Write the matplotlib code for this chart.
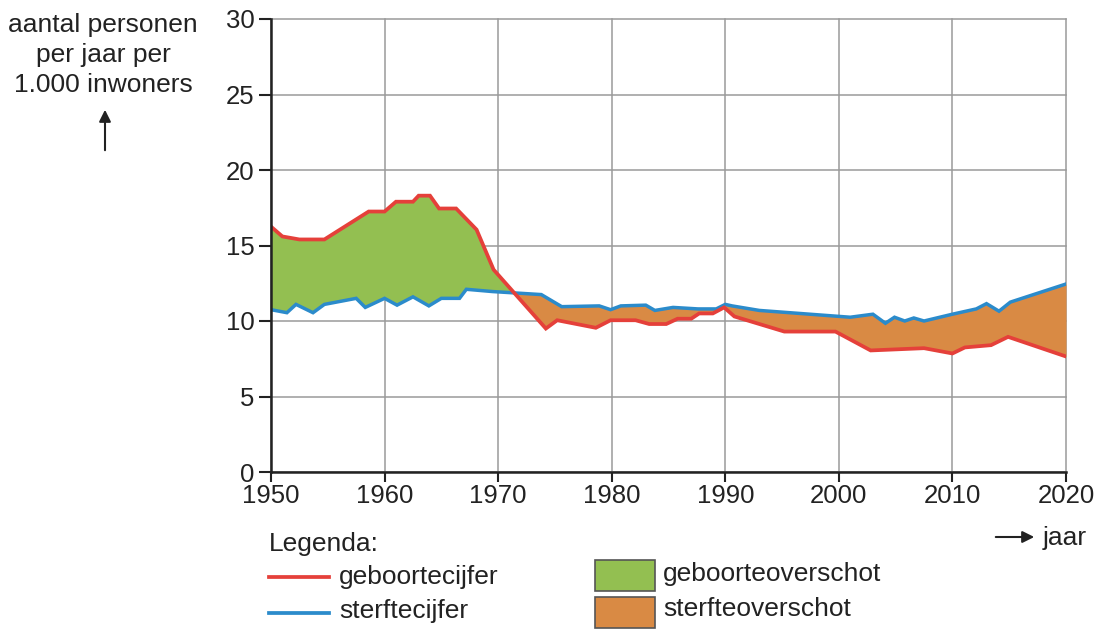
import numpy as np
import matplotlib
matplotlib.use("Agg")
import matplotlib.pyplot as plt
from matplotlib.lines import Line2D
from matplotlib.patches import Rectangle, FancyArrowPatch

plt.rcParams['font.family'] = ['Liberation Sans', 'DejaVu Sans']

# geboortecijfer (red) and sterftecijfer (blue)
birth_years = [1950, 1951, 1952.5, 1954.7, 1958.6, 1960, 1961, 1962.5, 1963, 1964,
               1964.8, 1966.3, 1968.1, 1969.6, 1974.2, 1975.2, 1978.6, 1979.9,
               1982.1, 1983.3, 1984.8, 1985.8, 1987, 1987.7, 1988.9, 1989.9,
               1990.8, 1995.2, 1999.7, 2002.8, 2007.5, 2010, 2011.1, 2013.4,
               2014.9, 2020]
birth_rate = [16.25, 15.6, 15.4, 15.4, 17.25, 17.25, 17.9, 17.9, 18.3, 18.3,
              17.45, 17.45, 16.05, 13.4, 9.5, 10.05, 9.55, 10.05,
              10.05, 9.8, 9.8, 10.15, 10.15, 10.5, 10.5, 10.9,
              10.3, 9.3, 9.3, 8.05, 8.2, 7.85, 8.25, 8.4,
              8.95, 7.65]

death_years = [1950, 1951.4, 1952.2, 1953.7, 1954.7, 1957.5, 1958.3, 1960, 1961.1,
               1962.5, 1963.9, 1965, 1966.6, 1967.2, 1969.5, 1973.8, 1975.6,
               1978.9, 1979.9, 1980.8, 1983, 1983.8, 1985.4, 1987.6, 1989.2,
               1990, 1990.6, 1993, 2001, 2003, 2004.1, 2004.9, 2005.8, 2006.6,
               2007.5, 2010, 2012.1, 2013, 2014.1, 2015.1, 2020]
death_rate = [10.75, 10.55, 11.1, 10.55, 11.1, 11.5, 10.9, 11.5, 11.05,
              11.6, 11.0, 11.5, 11.5, 12.1, 11.95, 11.75, 10.95,
              11.0, 10.75, 11.0, 11.05, 10.7, 10.9, 10.8, 10.8,
              11.1, 11.0, 10.7, 10.25, 10.45, 9.85, 10.25, 10.0, 10.2,
              10.0, 10.45, 10.8, 11.15, 10.65, 11.25, 12.45]

x_ticks = [1950, 1960, 1970, 1980, 1990, 2000, 2010, 2020]
y_ticks = [0, 5, 10, 15, 20, 25, 30]

RED = '#e5403a'
BLUE = '#2b8bcb'
GREEN = '#93bf51'
ORANGE = '#d98a44'
INK = '#222222'
FS = 19

W, H = 1106, 630


def fx(x):
    return x / W


def fy(y):
    return 1 - y / H


fig = plt.figure(figsize=(W / 100, H / 100), dpi=100)
ax = fig.add_axes([fx(271), fy(472), fx(1066) - fx(271), fy(19) - fy(472)])

# fill between the two rates on a shared grid
grid = np.union1d(birth_years, death_years)
b = np.interp(grid, birth_years, birth_rate)
d = np.interp(grid, death_years, death_rate)
ax.fill_between(grid, d, b, where=b >= d, interpolate=True, color=GREEN, lw=0, zorder=2)
ax.fill_between(grid, d, b, where=b <= d, interpolate=True, color=ORANGE, lw=0, zorder=2)

ax.plot(death_years, death_rate, color=BLUE, lw=2.5, zorder=3, solid_joinstyle='miter')
ax.plot(birth_years, birth_rate, color=RED, lw=2.7, zorder=4, solid_joinstyle='miter')

ax.set_xlim(1950, 2020)
ax.set_ylim(0, 30)
ax.set_xticks(x_ticks)
ax.set_yticks(y_ticks)
ax.grid(True, color='#9a9a9a', lw=1.1, zorder=1)
for line in ax.get_xgridlines() + ax.get_ygridlines():
    line.set_clip_on(False)
ax.set_axisbelow(True)
for s in ['top', 'right']:
    ax.spines[s].set_visible(False)
for s in ['left', 'bottom']:
    ax.spines[s].set_linewidth(1.8)
    ax.spines[s].set_color(INK)
    ax.spines[s].set_zorder(5)
ax.tick_params(axis='both', width=1.5, color=INK, labelsize=18.5, labelcolor=INK)
ax.tick_params(axis='y', length=9, pad=3)
ax.tick_params(axis='x', length=7.5, pad=1)

# y axis title with arrow
fig.text(fx(103), fy(55), "aantal personen\nper jaar per\n1.000 inwoners",
         ha='center', va='center', fontsize=FS, color=INK, linespacing=1.3)
fig.add_artist(FancyArrowPatch(
    (fx(105), fy(153)), (fx(105), fy(107)), transform=fig.transFigure,
    arrowstyle='-|>,head_length=7,head_width=3.5', color=INK, lw=1.5))

# x axis title with arrow
fig.add_artist(FancyArrowPatch(
    (fx(993), fy(537)), (fx(1037), fy(537)), transform=fig.transFigure,
    arrowstyle='-|>,head_length=7,head_width=3.5', color=INK, lw=1.5))
fig.text(fx(1043), fy(538), "jaar", ha='left', va='center', fontsize=FS, color=INK)

# legend
fig.text(fx(269), fy(544), "Legenda:", ha='left', va='center', fontsize=FS, color=INK)
fig.add_artist(Line2D([fx(269), fx(329)], [fy(577), fy(577)], color=RED, lw=2.7))
fig.text(fx(339), fy(577), "geboortecijfer", ha='left', va='center', fontsize=FS, color=INK)
fig.add_artist(Line2D([fx(269), fx(329)], [fy(613), fy(613)], color=BLUE, lw=2.7))
fig.text(fx(339), fy(611), "sterftecijfer", ha='left', va='center', fontsize=FS, color=INK)

fig.add_artist(Rectangle((fx(595), fy(591)), fx(655) - fx(595), fy(560) - fy(591),
                         transform=fig.transFigure, facecolor=GREEN, edgecolor='#555555', lw=1.2))
fig.text(fx(663), fy(574), "geboorteoverschot", ha='left', va='center', fontsize=FS, color=INK)
fig.add_artist(Rectangle((fx(595), fy(628)), fx(655) - fx(595), fy(597) - fy(628),
                         transform=fig.transFigure, facecolor=ORANGE, edgecolor='#555555', lw=1.2))
fig.text(fx(663), fy(609), "sterfteoverschot", ha='left', va='center', fontsize=FS, color=INK)

fig.savefig("out.png", dpi=100, facecolor='white')
